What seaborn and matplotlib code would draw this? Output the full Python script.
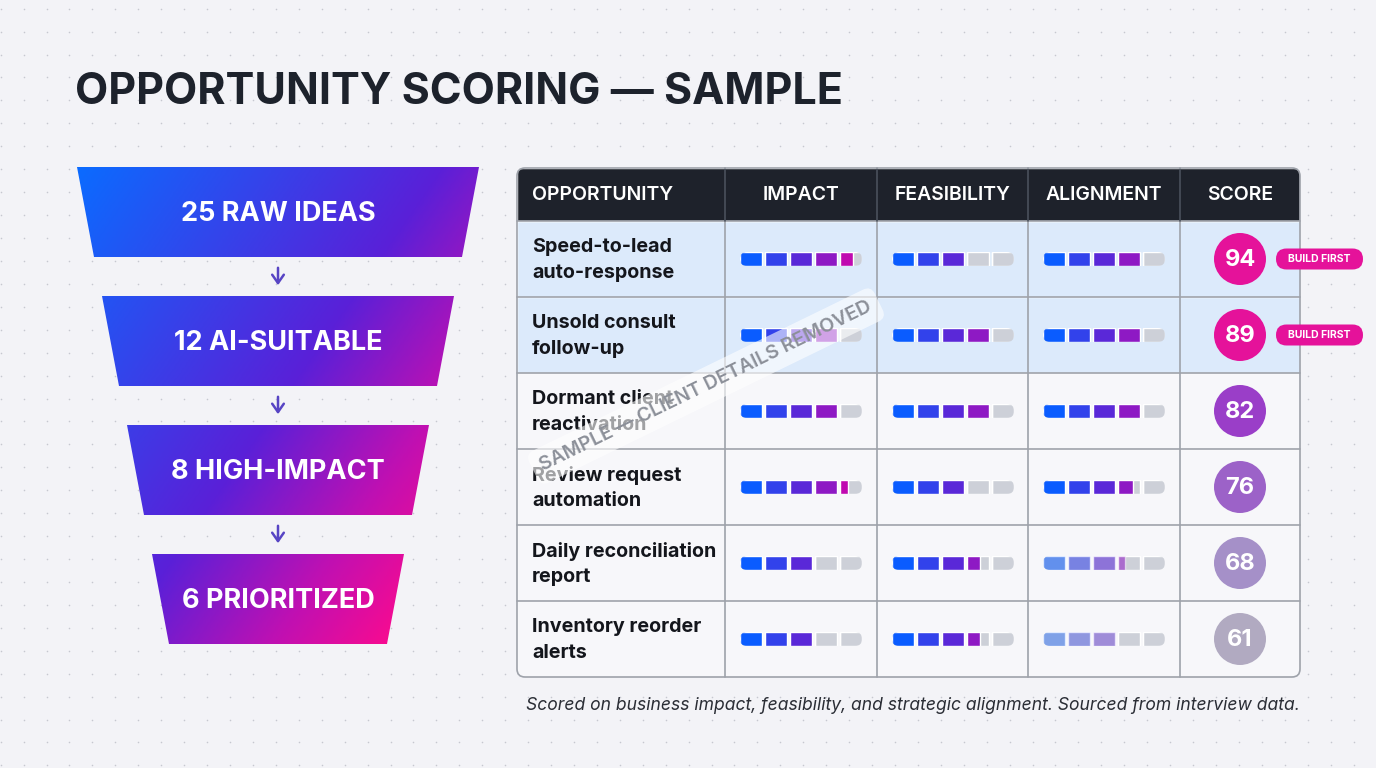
import numpy as np
import matplotlib.pyplot as plt
import seaborn as sns
from matplotlib.patches import Polygon, FancyBboxPatch, Circle
from matplotlib.colors import LinearSegmentedColormap

sns.set_theme(style="white")
plt.rcParams["font.family"] = ["Inter", "DejaVu Sans"]

# ---- data ----
funnel_labels = ["25 RAW IDEAS", "12 AI-SUITABLE", "8 HIGH-IMPACT", "6 PRIORITIZED"]
columns = ["OPPORTUNITY", "IMPACT", "FEASIBILITY", "ALIGNMENT", "SCORE"]
opportunities = [
    "Speed-to-lead\nauto-response",
    "Unsold consult\nfollow-up",
    "Dormant client\nreactivation",
    "Review request\nautomation",
    "Daily reconciliation\nreport",
    "Inventory reorder\nalerts",
]
impact = [4.6, 4.0, 4.0, 4.35, 3.0, 3.0]
feasibility = [3.0, 4.0, 4.0, 3.0, 3.6, 3.6]
alignment = [4.0, 4.0, 4.0, 3.7, 3.3, 3.0]
alignment_conf = [1.0, 1.0, 1.0, 1.0, 0.55, 0.4]
scores = [94, 89, 82, 76, 68, 61]
build_first = [True, True, False, False, False, False]
footnote = "Scored on business impact, feasibility, and strategic alignment. Sourced from interview data."

# ---- layout (pixels) ----
W, H = 1376, 768
bg = "#F3F3F7"
fig = plt.figure(figsize=(W / 100, H / 100), dpi=100)
fig.patch.set_facecolor(bg)
ax = fig.add_axes([0, 0, 1, 1])
ax.set_xlim(0, W)
ax.set_ylim(H, 0)
ax.axis("off")

# dotted background
gx, gy = np.meshgrid(np.arange(0.7, W, 22.93), np.arange(8.7, H, 22.93))
ax.scatter(gx.ravel(), gy.ravel(), s=1.3, c="#C6C8D0", lw=0, zorder=0)

# title
ax.text(75, 92, "OPPORTUNITY SCORING — SAMPLE", fontsize=31, fontweight="bold",
        color="#1D222C", va="center", ha="left")

# ---- funnel ----
funnel_cmap = LinearSegmentedColormap.from_list(
    "funnel", [(0, "#0B6BFF"), (0.5, "#5A20D8"), (0.72, "#C010B2"), (0.9, "#FF0A8C"),
               (1, "#FF0A8C")])
f_left, f_right, f_top, f_bot = 77, 479, 167, 644
tx, ty = np.meshgrid(np.linspace(0, 1, 300), np.linspace(0, 1, 300))
grad = 0.55 * tx + 0.45 * ty
cx = (f_left + f_right) / 2
stage_h, stage_gap = 90, 39
for i, label in enumerate(funnel_labels):
    top_w = 402 - 50 * i
    bot_w = top_w - 34
    y0 = f_top + i * (stage_h + stage_gap)
    y1 = y0 + stage_h
    poly = Polygon([(cx - top_w / 2, y0), (cx + top_w / 2, y0),
                    (cx + bot_w / 2, y1), (cx - bot_w / 2, y1)],
                   closed=True, fc="none", ec="none")
    ax.add_patch(poly)
    im = ax.imshow(grad, extent=(f_left, f_right, f_bot, f_top), origin="upper",
                   cmap=funnel_cmap, vmin=0, vmax=1, aspect="auto", zorder=2)
    im.set_clip_path(poly)
    ax.text(cx, (y0 + y1) / 2 + 2, label, color="white", fontsize=19.5,
            fontweight="bold", ha="center", va="center", zorder=3)
    if i < len(funnel_labels) - 1:
        ax.annotate("", xy=(cx, y1 + 31), xytext=(cx, y1 + 8),
                    arrowprops=dict(arrowstyle="->,head_length=0.5,head_width=0.35",
                                    color="#5744C4", lw=1.8), zorder=3)
ax.set_xlim(0, W)
ax.set_ylim(H, 0)

# ---- table ----
col_edges = [517, 725, 877, 1028, 1180, 1300]
t_top, head_h, row_h = 168, 53, 76
t_bot = t_top + head_h + row_h * len(opportunities)
grid_c = "#9EA2AA"

frame = FancyBboxPatch((col_edges[0], t_top), col_edges[-1] - col_edges[0], t_bot - t_top,
                       boxstyle="round,pad=0,rounding_size=8", fc="#F7F7FA", ec="none", zorder=1)
ax.add_patch(frame)

head = ax.barh(t_top + head_h / 2, col_edges[-1] - col_edges[0], left=col_edges[0],
               height=head_h, color="#1E222B", zorder=2)
head[0].set_clip_path(frame)
for j, name in enumerate(columns):
    if j == 0:
        ax.text(col_edges[0] + 15, t_top + head_h / 2 + 1, name, color="white",
                fontsize=14, fontweight="semibold", ha="left", va="center", zorder=3)
    else:
        ax.text((col_edges[j] + col_edges[j + 1]) / 2, t_top + head_h / 2 + 1, name,
                color="white", fontsize=14, fontweight="semibold", ha="center",
                va="center", zorder=3)

row_centers = [t_top + head_h + row_h * i + row_h / 2 for i in range(len(opportunities))]
row_bg = ["#DCEAFB" if b else "#F7F7FA" for b in build_first]
rows = ax.barh(row_centers, col_edges[-1] - col_edges[0], left=col_edges[0],
               height=row_h, color=row_bg, zorder=1.5)
for p in rows:
    p.set_clip_path(frame)

# grid lines
for yb in row_centers[:-1]:
    ax.plot([col_edges[0], col_edges[-1]], [yb + row_h / 2] * 2, color=grid_c, lw=1.2, zorder=2)
ax.plot([col_edges[0], col_edges[-1]], [t_top + head_h] * 2, color=grid_c, lw=1.2, zorder=2)
for xe in col_edges[1:-1]:
    ax.plot([xe, xe], [t_top, t_top + head_h], color="#4A505C", lw=1.2, zorder=2.5)
    ax.plot([xe, xe], [t_top + head_h, t_bot], color=grid_c, lw=1.2, zorder=2)
border = FancyBboxPatch((col_edges[0], t_top), col_edges[-1] - col_edges[0], t_bot - t_top,
                        boxstyle="round,pad=0,rounding_size=8", fc="none", ec=grid_c,
                        lw=1.2, zorder=2.6)
ax.add_patch(border)

for yc, name in zip(row_centers, opportunities):
    ax.text(col_edges[0] + 15, yc + 1, name, color="#14161C", fontsize=14.2,
            fontweight="bold", ha="left", va="center", linespacing=1.5, zorder=3)

# segmented score bars
seg_colors = sns.blend_palette(["#0A5CFF", "#5A28D8", "#C00AB0"], 5)
seg_w, seg_gap, seg_h = 22, 3, 14
bar_w = 5 * seg_w + 4 * seg_gap
metrics = [(impact, [1.0] * 6), (feasibility, [1.0] * 6), (alignment, alignment_conf)]
for m, (vals, conf) in enumerate(metrics):
    x0 = col_edges[m + 1] + 15
    for yc, v, a in zip(row_centers, vals, conf):
        pill = FancyBboxPatch((x0, yc - seg_h / 2), bar_w, seg_h,
                              boxstyle=f"round,pad=0,rounding_size={seg_h / 2}",
                              fc="none", ec="none")
        ax.add_patch(pill)
        lefts = [x0 + k * (seg_w + seg_gap) for k in range(5)]
        base = ax.barh([yc] * 5, [seg_w] * 5, left=lefts, height=seg_h,
                       color="#CDD0D8", zorder=3)
        fills = [min(max(v - k, 0), 1) * seg_w for k in range(5)]
        filled = ax.barh([yc] * 5, fills, left=lefts, height=seg_h,
                         color=seg_colors, alpha=a, zorder=3.2)
        for p in list(base) + list(filled):
            p.set_clip_path(pill)

# score circles
score_cmap = LinearSegmentedColormap.from_list(
    "score", [(0, "#B3AEC0"), (0.2, "#A590C8"), (0.4, "#9C62C8"), (0.55, "#9A3EC8"),
              (0.65, "#E5129A"), (1, "#E5129A")])
score_x = (col_edges[4] + col_edges[5]) / 2
for yc, s, b in zip(row_centers, scores, build_first):
    c = score_cmap((s - 60) / 40)
    ax.add_patch(Circle((score_x, yc), 26, fc=c, ec="none", zorder=3))
    ax.text(score_x, yc + 1, str(s), color="white", fontsize=17, fontweight="bold",
            ha="center", va="center", zorder=4)
    if b:
        ax.add_patch(FancyBboxPatch((1276, yc - 10.5), 87, 21,
                                    boxstyle="round,pad=0,rounding_size=10.5",
                                    fc="#E5129A", ec="none", zorder=4))
        ax.text(1319.5, yc + 0.5, "BUILD FIRST", color="white", fontsize=7.5,
                fontweight="bold", ha="center", va="center", zorder=5)

# watermark
ax.text(706, 386, "SAMPLE — CLIENT DETAILS REMOVED", rotation=26, rotation_mode="anchor",
        ha="center", va="center", color="#8C9099", fontsize=14, fontweight="semibold",
        zorder=6, bbox=dict(boxstyle="round,pad=0.45", fc="white", ec="none", alpha=0.6))

# footnote
ax.text(1300, 706, footnote, ha="right", va="center", fontsize=12.6, style="italic",
        color="#2A2D35", zorder=3)

fig.savefig("out.png", dpi=100, facecolor=bg)
